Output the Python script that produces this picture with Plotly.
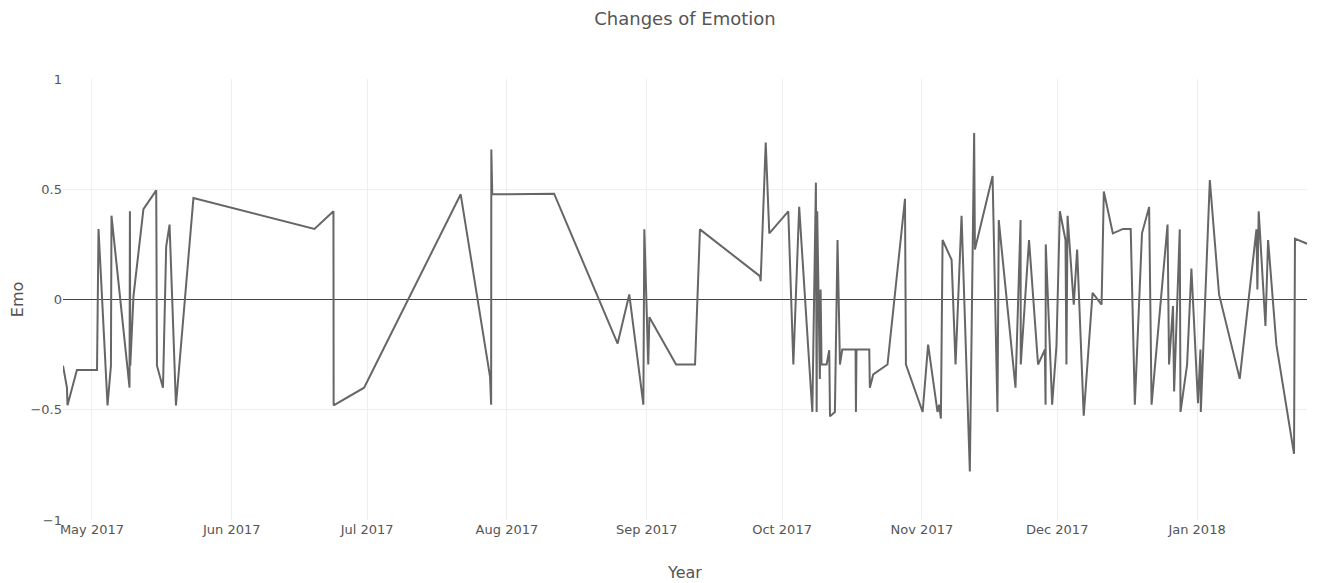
import plotly.graph_objects as go

# timestamps (roughly, to the hour)
dates = [
    "2017-04-24 14:00", "2017-04-25 11:00", "2017-04-25 14:00", "2017-04-27 16:00",
    "2017-05-02 03:00", "2017-05-02 11:00", "2017-05-04 11:00", "2017-05-05 05:00",
    "2017-05-05 08:00", "2017-05-09 08:00", "2017-05-09 10:00", "2017-05-09 12:00",
    "2017-05-10 05:00", "2017-05-12 10:00", "2017-05-15 06:00", "2017-05-15 10:00",
    "2017-05-16 18:00", "2017-05-17 11:00", "2017-05-18 05:00", "2017-05-19 15:00",
    "2017-05-23 12:00", "2017-06-19 08:00", "2017-06-23 13:00", "2017-06-23 14:00",
    "2017-06-30 08:00", "2017-07-21 18:00", "2017-07-28 06:00", "2017-07-28 12:00",
    "2017-07-28 13:00", "2017-07-28 18:00", "2017-08-11 11:00", "2017-08-25 13:00",
    "2017-08-28 03:00", "2017-08-31 06:00", "2017-08-31 11:00", "2017-09-01 08:00",
    "2017-09-01 14:00", "2017-09-07 12:00", "2017-09-11 17:00", "2017-09-12 19:00",
    "2017-09-26 02:00", "2017-09-26 06:00", "2017-09-27 09:00", "2017-09-28 04:00",
    "2017-10-02 09:00", "2017-10-03 12:00", "2017-10-04 19:00", "2017-10-07 17:00",
    "2017-10-08 12:00", "2017-10-08 16:00", "2017-10-08 19:00", "2017-10-09 09:00",
    "2017-10-09 13:00", "2017-10-09 18:00", "2017-10-10 21:00", "2017-10-11 11:00",
    "2017-10-11 15:00", "2017-10-12 17:00", "2017-10-13 07:00", "2017-10-13 20:00",
    "2017-10-14 08:00", "2017-10-17 07:00", "2017-10-17 09:00", "2017-10-17 12:00",
    "2017-10-20 08:00", "2017-10-20 11:00", "2017-10-21 05:00", "2017-10-24 09:00",
    "2017-10-28 06:00", "2017-10-28 11:00", "2017-11-01 04:00", "2017-11-02 09:00",
    "2017-11-04 11:00", "2017-11-04 20:00", "2017-11-05 05:00", "2017-11-05 14:00",
    "2017-11-07 14:00", "2017-11-08 11:00", "2017-11-09 19:00", "2017-11-11 15:00",
    "2017-11-12 14:00", "2017-11-12 18:00", "2017-11-16 16:00", "2017-11-17 18:00",
    "2017-11-18 01:00", "2017-11-21 18:00", "2017-11-22 21:00", "2017-11-22 22:00",
    "2017-11-24 18:00", "2017-11-26 18:00", "2017-11-28 06:00", "2017-11-28 10:00",
    "2017-11-28 11:00", "2017-11-29 21:00", "2017-11-30 20:00", "2017-12-01 14:00",
    "2017-12-02 20:00", "2017-12-03 01:00", "2017-12-03 07:00", "2017-12-04 16:00",
    "2017-12-05 10:00", "2017-12-06 21:00", "2017-12-08 20:00", "2017-12-10 20:00",
    "2017-12-11 08:00", "2017-12-13 08:00", "2017-12-15 14:00", "2017-12-17 07:00",
    "2017-12-18 05:00", "2017-12-19 19:00", "2017-12-21 09:00", "2017-12-21 22:00",
    "2017-12-25 11:00", "2017-12-25 19:00", "2017-12-26 16:00", "2017-12-26 22:00",
    "2017-12-28 04:00", "2017-12-28 08:00", "2017-12-29 19:00", "2017-12-30 18:00",
    "2018-01-01 05:00", "2018-01-01 18:00", "2018-01-01 20:00", "2018-01-03 20:00",
    "2018-01-05 21:00", "2018-01-10 11:00", "2018-01-14 04:00", "2018-01-14 09:00",
    "2018-01-14 16:00", "2018-01-16 04:00", "2018-01-16 18:00", "2018-01-18 14:00",
    "2018-01-22 12:00", "2018-01-22 17:00", "2018-01-25 09:00",
]

emo = [
    -0.30, -0.40, -0.48, -0.32,
    -0.32, 0.32, -0.48, -0.30,
    0.38, -0.40, 0.40, -0.30,
    0.015, 0.41, 0.495, -0.30,
    -0.40, 0.24, 0.34, -0.48,
    0.46, 0.32, 0.40, -0.48,
    -0.40, 0.477, -0.35, -0.477,
    0.68, 0.477, 0.48, -0.20,
    0.023, -0.477, 0.318, -0.295,
    -0.08, -0.295, -0.295, 0.318,
    0.106, 0.083, 0.712, 0.30,
    0.40, -0.295, 0.42, -0.51,
    0.53, -0.51, 0.40, -0.36,
    0.045, -0.295, -0.295, -0.23,
    -0.53, -0.51, 0.27, -0.295,
    -0.227, -0.227, -0.51, -0.227,
    -0.227, -0.40, -0.34, -0.295,
    0.457, -0.295, -0.51, -0.205,
    -0.51, -0.477, -0.54, 0.27,
    0.18, -0.295, 0.38, -0.78,
    0.755, 0.227, 0.56, -0.51,
    0.36, -0.40, 0.36, -0.295,
    0.27, -0.295, -0.227, -0.477,
    0.25, -0.477, -0.21, 0.40,
    0.27, -0.295, 0.38, -0.023,
    0.227, -0.527, 0.03, -0.023,
    0.49, 0.30, 0.32, 0.32,
    -0.477, 0.30, 0.42, -0.477,
    0.34, -0.295, -0.03, -0.417,
    0.318, -0.51, -0.295, 0.14,
    -0.47, -0.227, -0.51, 0.542,
    0.023, -0.36, 0.318, 0.045,
    0.40, -0.12, 0.27, -0.205,
    -0.70, 0.276, 0.253,
]

fig = go.Figure()
fig.add_trace(go.Scatter(x    = dates,
                         y    = emo,
                         mode = "lines",
                         line = dict(color = "#666666", width = 2)))

# the page adds an 8px body margin, so margins are set relative to that
fig.update_layout(
    width         = 1322,
    height        = 583,
    template      = "plotly_white",
    showlegend    = False,
    font          = dict(family = "DejaVu Sans", size = 13, color = "#555555"),
    title         = dict(text = "Changes of Emotion", x = 0.5, xref = "paper",
                         xanchor = "center", y = 0.981, yanchor = "middle",
                         font = dict(size = 18, color = "#555555")),
    margin        = dict(l = 55, r = 23, t = 71, b = 71),
    plot_bgcolor  = "white",
    paper_bgcolor = "white",
)
fig.update_xaxes(title_text = "Year", showgrid = True, gridcolor = "#eeeeee",
                 dtick = "M1", tickformat = "%b %Y", zeroline = False,
                 tickfont = dict(color = "#555555"),
                 showline = False, automargin = False, title_standoff = 30)
fig.update_yaxes(title_text = "Emo", range = [-1, 1], dtick = 0.5,
                 showgrid = True, gridcolor = "#eeeeee",
                 tickfont = dict(color = "#555555"),
                 zeroline = True, zerolinecolor = "#444444", zerolinewidth = 1,
                 showline = False, automargin = False)

fig.write_html("out.html")
